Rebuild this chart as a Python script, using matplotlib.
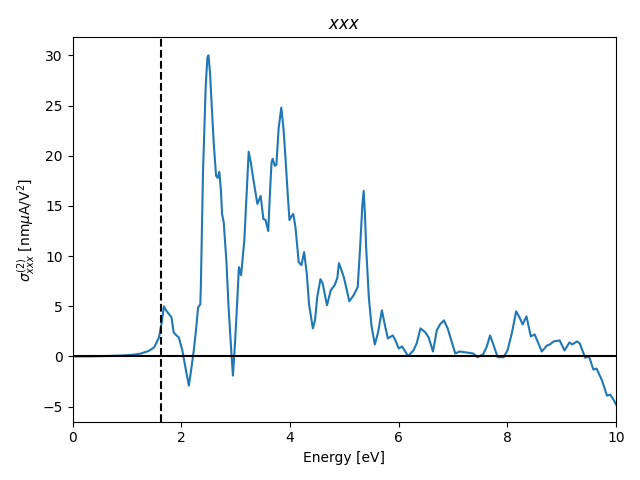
import matplotlib
matplotlib.use("Agg")
import matplotlib.pyplot as plt

# photon energy [eV] and sigma^(2)_xxx [nm uA/V^2]
energy = [0.0, 0.3, 0.6, 0.9, 1.1, 1.25, 1.4, 1.5, 1.59, 1.64, 1.68, 1.72, 1.77, 1.82,
          1.86, 1.91, 1.955, 2.02, 2.08, 2.14, 2.19, 2.23, 2.27, 2.31, 2.35, 2.36, 2.38,
          2.40, 2.42, 2.45, 2.48, 2.50, 2.53, 2.56, 2.60, 2.64, 2.67, 2.70, 2.73, 2.75,
          2.78, 2.83, 2.87, 2.92, 2.95, 2.99, 3.03, 3.06, 3.10, 3.16, 3.20, 3.24, 3.28,
          3.33, 3.40, 3.46, 3.51, 3.55, 3.60, 3.63, 3.66, 3.68, 3.72, 3.75, 3.79, 3.84,
          3.88, 3.92, 3.96, 3.99, 4.03, 4.06, 4.10, 4.16, 4.21, 4.26, 4.31, 4.35, 4.42,
          4.46, 4.50, 4.56, 4.60, 4.68, 4.75, 4.82, 4.87, 4.90, 4.94, 4.99, 5.05, 5.09,
          5.17, 5.245, 5.29, 5.33, 5.355, 5.38, 5.40, 5.45, 5.50, 5.56, 5.62, 5.69, 5.75,
          5.80, 5.89, 5.94, 6.00, 6.06, 6.12, 6.17, 6.27, 6.33, 6.40, 6.49, 6.55, 6.63,
          6.70, 6.76, 6.83, 6.90, 6.95, 7.04, 7.12, 7.25, 7.37, 7.45, 7.55, 7.62, 7.68,
          7.74, 7.82, 7.93, 8.00, 8.08, 8.16, 8.22, 8.28, 8.35, 8.43, 8.50, 8.57, 8.63,
          8.73, 8.78, 8.85, 8.96, 9.05, 9.14, 9.19, 9.28, 9.33, 9.43, 9.50, 9.58, 9.64,
          9.74, 9.83, 9.89, 9.95, 10.0]
sigma = [0.0, 0.01, 0.04, 0.1, 0.17, 0.28, 0.55, 0.9, 1.9, 3.4, 5.0, 4.6, 4.25, 3.9,
         2.4, 2.1, 1.9, 0.6, -1.2, -2.9, -1.0, 0.6, 2.6, 4.9, 5.2, 7.0, 13.0,
         18.5, 22.0, 27.0, 29.8, 30.0, 28.2, 25.0, 21.0, 18.0, 17.8, 18.4, 16.5, 14.2,
         13.4, 9.5, 4.9, 0.5, -1.9, 1.5, 5.6, 8.9, 8.1, 11.6, 16.0, 20.4, 19.3,
         17.5, 15.2, 16.0, 13.7, 13.6, 12.5, 16.2, 19.3, 19.7, 19.0, 19.1, 22.7, 24.8,
         22.7, 19.5, 16.0, 13.6, 14.0, 14.2, 12.9, 9.4, 9.1, 10.4, 8.2, 5.2, 2.8,
         3.6, 5.9, 7.7, 7.3, 5.1, 6.6, 7.1, 7.8, 9.3, 8.7, 7.9, 6.5, 5.5,
         6.1, 6.9, 10.9, 15.0, 16.5, 14.0, 10.9, 5.9, 3.0, 1.2, 2.4, 4.6, 3.0,
         1.8, 2.1, 1.6, 0.8, 1.0, 0.5, 0.03, 0.6, 1.3, 2.8, 2.4, 1.9, 0.5,
         2.6, 3.2, 3.6, 2.8, 1.9, 0.3, 0.5, 0.4, 0.3, -0.07, 0.2, 1.0, 2.1,
         1.2, -0.07, -0.07, 0.6, 2.3, 4.5, 3.9, 3.2, 4.0, 2.0, 2.2, 1.3, 0.5,
         1.1, 1.2, 1.5, 1.6, 0.6, 1.4, 1.2, 1.5, 1.3, -0.13, 0.0, -1.3, -1.2,
         -2.4, -3.9, -3.8, -4.3, -4.8]

gap = 1.63

fig, ax = plt.subplots(figsize=(6.4, 4.8), dpi=100)
ax.plot(energy, sigma, color="#1f77b4", lw=1.5)
ax.axhline(0, color="black", lw=1.5)
ax.axvline(gap, color="black", ls="--", lw=1.5)
ax.set_xlim(0, 10)
ax.set_ylim(-6.5, 31.8)
ax.set_xlabel("Energy [eV]")
ax.set_ylabel(r"$\sigma^{(2)}_{xxx}$ [nm$\mu$A/V$^2$]")
ax.set_title(r"$xxx$")
fig.tight_layout()
fig.savefig("out.png", dpi=100)
